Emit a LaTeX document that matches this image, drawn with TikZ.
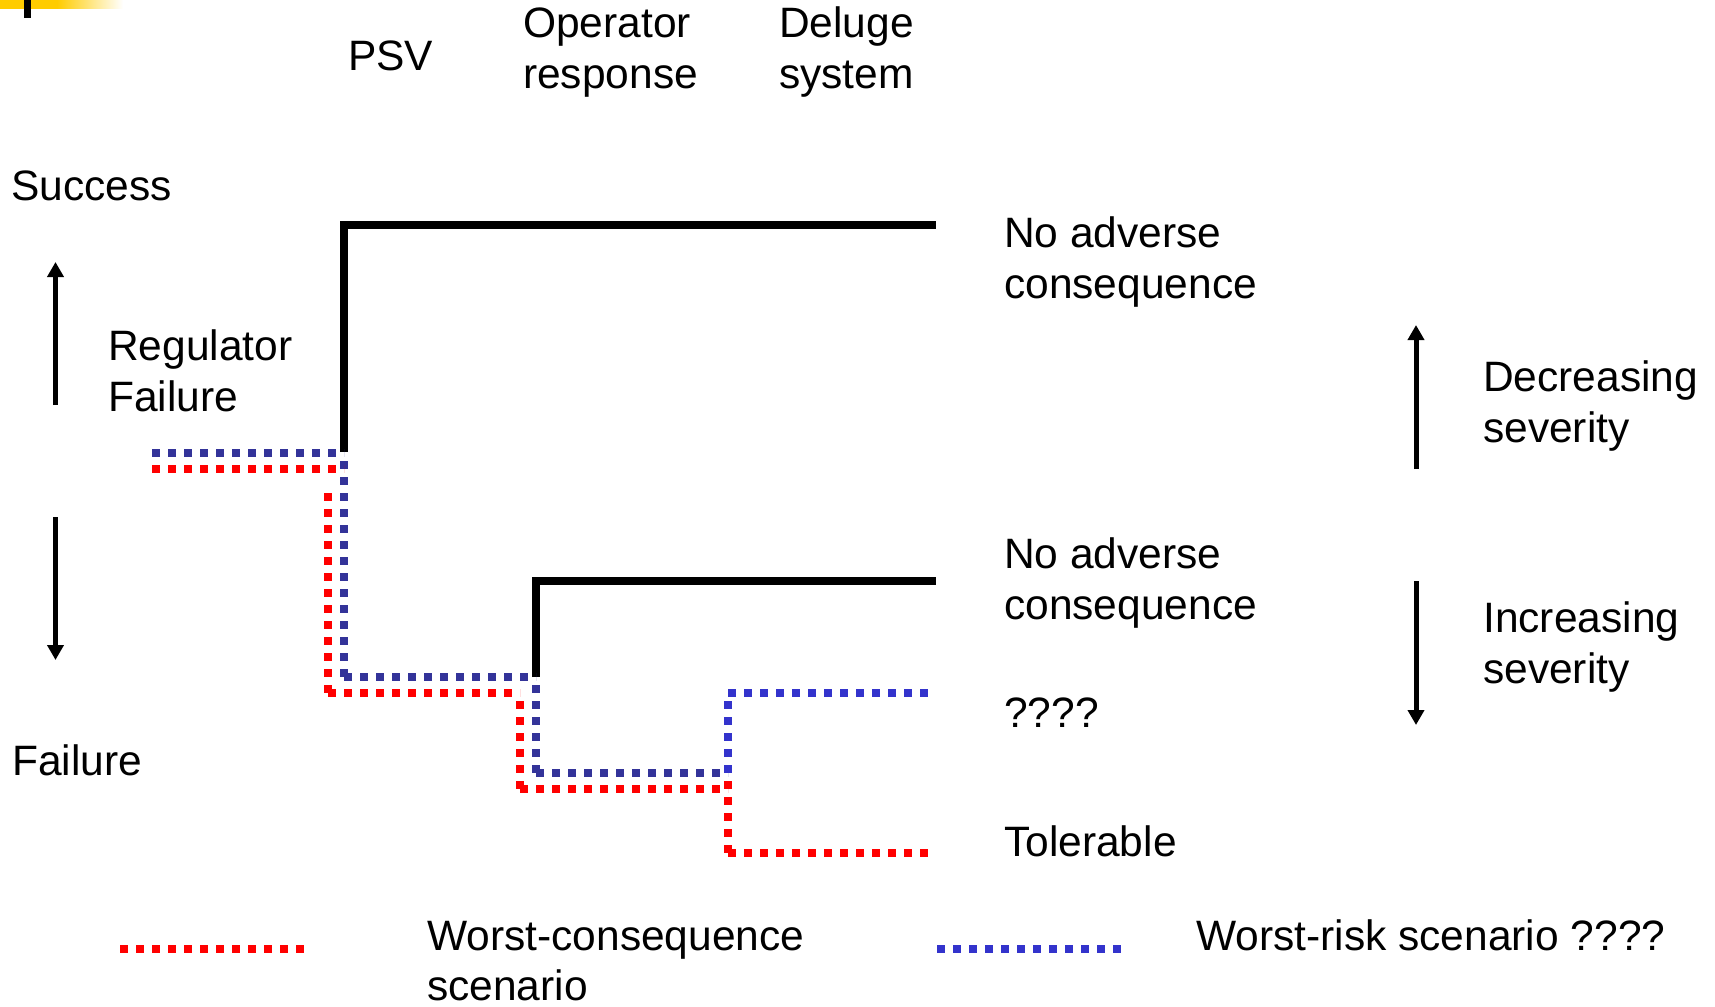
\documentclass[tikz,border=0pt]{standalone}
\usepackage{fontspec}
\setmainfont{Liberation Sans}
\usetikzlibrary{arrows.meta}
\definecolor{dblue}{HTML}{333399}
\definecolor{lblue}{HTML}{3333CC}
\definecolor{gold}{HTML}{FFCC00}
\newcommand{\twoline}[1]{\parbox[t]{440pt}{\raggedright #1}}
\begin{document}
\begin{tikzpicture}[x=1pt,y=-1pt,
  lbl/.style={anchor=base west, inner sep=0pt, font=\fontsize{42.5}{51}\selectfont},
  solidline/.style={line width=8pt, line join=miter, line cap=butt},
  dotline/.style={line width=8pt, dash pattern=on 8pt off 8pt, line cap=butt},
  redline/.style={dotline, draw=red},
  dblueline/.style={dotline, draw=dblue},
  lblueline/.style={dotline, draw=lblue},
  sevarrow/.style={line width=5pt, -{Triangle[width=16pt,length=15pt]}}]
\useasboundingbox (0,0) rectangle (1715,1006);
% header decoration
\fill[gold] (0,0) rectangle (57,9);
\shade[left color=gold, right color=white] (57,0) rectangle (123,9);
\fill[black] (24,0) rectangle (31,18);

% labels
\node[lbl] (psv) at (348,71) {PSV};
\node[lbl] (oper) at (523,38) {\twoline{Operator\\response}};
\node[lbl] (delu) at (779,38) {\twoline{Deluge\\system}};
\node[lbl] (succ) at (11,200) {Success};
\node[lbl] (regf) at (108,360) {\twoline{Regulator\\Failure}};
\node[lbl] (fail) at (12,775) {Failure};
\node[lbl] (noadv1) at (1004,247) {\twoline{No adverse\\consequence}};
\node[lbl] (noadv2) at (1004,568) {\twoline{No adverse\\consequence}};
\node[lbl] (qmark) at (1004,727) {????};
\node[lbl] (toler) at (1004,856) {Tolerable};
\node[lbl] (decr) at (1483,391) {\twoline{Decreasing\\severity}};
\node[lbl] (incr) at (1483,632) {\twoline{Increasing\\severity}};
\node[lbl, font=\fontsize{42.5}{50}\selectfont] (lgwc) at (427,950) {\twoline{Worst-consequence\\scenario}};
\node[lbl] (lgwr) at (1196,950) {Worst-risk scenario ????};

% direction arrows
\coordinate (la1) at (55.5,405); \coordinate (la1t) at (55.5,262);
\coordinate (la2) at (55.5,517); \coordinate (la2t) at (55.5,660);
\coordinate (ra1) at (1416,469); \coordinate (ra1t) at (1416,325);
\coordinate (ra2) at (1416,581); \coordinate (ra2t) at (1416,725);
\draw[sevarrow] (la1) -- (la1t);
\draw[sevarrow] (la2) -- (la2t);
\draw[sevarrow] (ra1) -- (ra1t);
\draw[sevarrow] (ra2) -- (ra2t);

% success branches
\draw[solidline] (344,452) |- (936,225);
\draw[solidline] (536,677) |- (936,581);

% worst-risk (blue)
\draw[dblueline] (152,453) -- (344,453);
\draw[dblueline] (344,461) -- (344,680);
\draw[dblueline] (344,677) -- (536,677);
\draw[dblueline] (536,685) -- (536,776);
\draw[dblueline] (536,773) -- (728,773);
\draw[lblueline] (728,701) -- (728,780);
\draw[lblueline] (728,693) -- (928,693);

% worst-consequence (red)
\draw[redline] (152,469) -- (344,469);
\draw[redline] (328,493) -- (328,700);
\draw[redline] (328,693) -- (520,693);
\draw[redline] (520,701) -- (520,796);
\draw[redline] (520,789) -- (728,789);
\draw[redline] (728,781) -- (728,860);
\draw[redline] (728,853) -- (928,853);

% legend
\coordinate (lr1) at (120,949); \coordinate (lr2) at (305,949);
\coordinate (lb1) at (937,949); \coordinate (lb2) at (1122,949);
\draw[redline] (lr1) -- (lr2);
\draw[lblueline] (lb1) -- (lb2);
\end{tikzpicture}
\end{document}
